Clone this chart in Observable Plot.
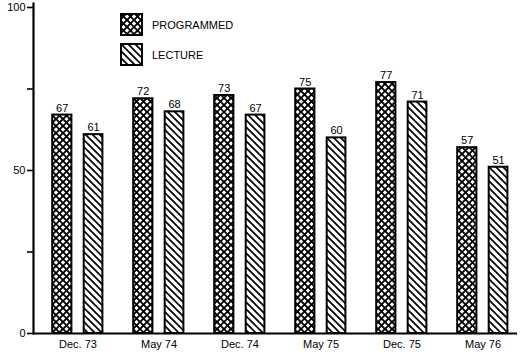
<!DOCTYPE html>
<html><head><meta charset="utf-8">
<script src="https://cdn.jsdelivr.net/npm/d3@7"></script>
<script src="https://cdn.jsdelivr.net/npm/@observablehq/plot@0.6"></script>
<style>
body{margin:0;background:#fff;font-family:"Liberation Sans",Arial,Helvetica,sans-serif}
#chart{position:relative;width:521px;height:352px}
.leg{position:absolute;left:120px;display:flex;align-items:center;font-size:11px;color:#000}
.leg svg{margin-right:9px}
</style></head><body><div id="chart"></div>
<script>
const dates = ["Dec. 73","May 74","Dec. 74","May 75","Dec. 75","May 76"];
const seriesNames = ["PROGRAMMED","LECTURE"];
const programmed = [67,72,73,75,77,57];
const lecture = [61,68,67,60,71,51];
const yTicks = [0,25,50,75,100];
const yLabels = [0,50,100];

const rows = dates.flatMap((d,i)=>[
  {date:d, series:seriesNames[0], value:programmed[i]},
  {date:d, series:seriesNames[1], value:lecture[i]}
]);
const prog = rows.filter(r=>r.series===seriesNames[0]);
const lect = rows.filter(r=>r.series===seriesNames[1]);

const font = '"Liberation Sans",Arial,Helvetica,sans-serif';
const plot = Plot.plot({
  width:521, height:352,
  marginLeft:33, marginRight:4, marginTop:3, marginBottom:19,
  style:{fontFamily:font, fontSize:"11px", background:"white", color:"black", overflow:"visible"},
  x:{domain:dates, range:[36,524], padding:0},
  y:{domain:[0,100], range:[333,7]},
  marks:[
    Plot.barY(prog, {x:"date", y:"value", fill:"url(#xhatch)", stroke:"black", strokeWidth:2, insetLeft:15.2, insetRight:46.6}),
    Plot.barY(lect, {x:"date", y:"value", fill:"url(#dhatch)", stroke:"black", strokeWidth:2, insetLeft:46.7, insetRight:15.6}),
    Plot.text(prog, {x:"date", y:"value", text:"value", dx:-15.8, dy:-7, fill:"black", fontSize:11}),
    Plot.text(lect, {x:"date", y:"value", text:"value", dx:15.5, dy:-7, fill:"black", fontSize:11}),
    Plot.frame({anchor:"left", strokeWidth:2.2}),
    Plot.ruleY([0], {strokeWidth:2}),
    Plot.axisY(yTicks, {tickSize:6, tickPadding:2, strokeWidth:1.6, tickFormat:d=>yLabels.includes(d)?String(d):"", fontSize:11, label:null}),
    Plot.axisX({tickSize:0, tickPadding:7, fontSize:11, label:null})
  ]
});

const defs = d3.select(plot).insert("defs", ":first-child");
const px = defs.append("pattern").attr("id","xhatch").attr("patternUnits","userSpaceOnUse").attr("width",7).attr("height",7);
px.append("rect").attr("width",7).attr("height",7).attr("fill","white");
px.append("path").attr("d","M-1,-1L8,8M8,-1L-1,8").attr("stroke","black").attr("stroke-width",1.9).attr("fill","none");
const pd = defs.append("pattern").attr("id","dhatch").attr("patternUnits","userSpaceOnUse").attr("width",7).attr("height",7);
pd.append("rect").attr("width",7).attr("height",7).attr("fill","white");
pd.append("path").attr("d","M-1,-1L8,8M-1,6L1,8M6,-1L8,1").attr("stroke","black").attr("stroke-width",1.7).attr("fill","none");

const chart = document.getElementById("chart");
chart.appendChild(plot);

const fills = ["url(#xhatch)","url(#dhatch)"];
const tops = [13,43];
seriesNames.forEach((name,i)=>{
  const div = document.createElement("div");
  div.className = "leg";
  div.style.top = tops[i]+"px";
  div.innerHTML = `<svg width="23" height="23"><rect x="1" y="1" width="21" height="21" fill="${fills[i]}" stroke="black" stroke-width="2"/></svg><span>${name}</span>`;
  chart.appendChild(div);
});
</script>
</body></html>
